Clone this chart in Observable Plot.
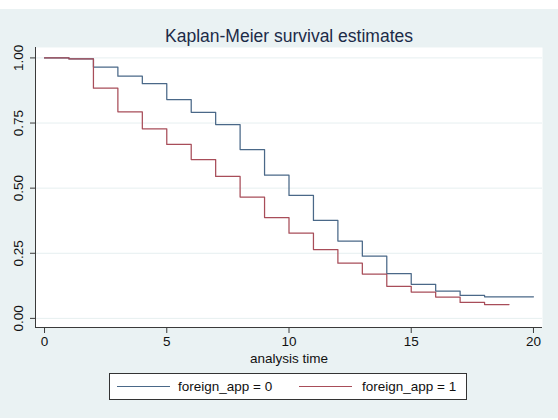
<!DOCTYPE html>
<html>
<head>
<meta charset="utf-8">
<script src="https://cdn.jsdelivr.net/npm/d3@7"></script>
<script src="https://cdn.jsdelivr.net/npm/@observablehq/plot@0.6"></script>
<style>
  html, body { margin: 0; padding: 0; background: #ffffff; }
  #page { position: relative; width: 558px; height: 420px; overflow: hidden; font-family: "Liberation Sans", Arial, sans-serif; }
  #band { position: absolute; left: 0; top: 9px; width: 558px; height: 409px; background: #eaf2f3; }
  #chart { position: absolute; left: 0; top: 0; }
  #legend { position: absolute; left: 109px; top: 373px; width: 356px; height: 25px; background: #ffffff; border: 1px solid #333; font-size: 13.5px; color: #111; }
  .item { position: absolute; top: 0; height: 25px; line-height: 25px; white-space: nowrap; }
  .swatch { position: absolute; top: 12px; height: 0; border-top: 1.4px solid; }
</style>
</head>
<body>
<div id="page">
  <div id="band"></div>
  <div id="chart"></div>
  <div id="legend"></div>
</div>
<script>
// Kaplan-Meier estimates by group
const title = "Kaplan-Meier survival estimates";
const xLabel = "analysis time";
const groups = ["foreign_app = 0", "foreign_app = 1"];
const colors = ["#4a6888", "#a84d59"];

const time0 = [0, 1, 2, 3, 4, 5, 6, 7, 8, 9, 10, 11, 12, 13, 14, 15, 16, 17, 18, 20];
const surv0 = [1.0, 0.996, 0.965, 0.930, 0.901, 0.840, 0.791, 0.744, 0.648, 0.550, 0.472, 0.376, 0.297, 0.239, 0.172, 0.131, 0.105, 0.088, 0.083, 0.083];

const time1 = [0, 1, 2, 3, 4, 5, 6, 7, 8, 9, 10, 11, 12, 13, 14, 15, 16, 17, 18, 19];
const surv1 = [1.0, 0.996, 0.884, 0.793, 0.728, 0.668, 0.610, 0.545, 0.466, 0.387, 0.327, 0.264, 0.212, 0.170, 0.123, 0.101, 0.082, 0.061, 0.053, 0.053];

const xTicks = [0, 5, 10, 15, 20];
const yTicks = [0, 0.25, 0.5, 0.75, 1];

const xDomain = [-0.37, 20.37];
const yDomain = [-0.035, 1.04];

const rows = [
  ...time0.map((t, i) => ({t, s: surv0[i], g: groups[0]})),
  ...time1.map((t, i) => ({t, s: surv1[i], g: groups[1]}))
];

const font = "'Liberation Sans', Arial, sans-serif";

const chart = Plot.plot({
  width: 558,
  height: 420,
  marginLeft: 35,
  marginRight: 16,
  marginTop: 47,
  marginBottom: 93,
  style: {background: "transparent", fontFamily: font, overflow: "visible"},
  x: {domain: xDomain, ticks: xTicks, label: null},
  y: {domain: yDomain, ticks: yTicks, label: null},
  color: {domain: groups, range: colors},
  marks: [
    Plot.frame({fill: "#ffffff", stroke: null}),
    Plot.gridY(yTicks, {stroke: "#e6eff0", strokeOpacity: 1, strokeWidth: 1}),
    Plot.ruleX([xDomain[0]], {stroke: "#3a3a3a", strokeWidth: 1}),
    Plot.ruleY([yDomain[0]], {stroke: "#3a3a3a", strokeWidth: 1}),
    Plot.axisY(yTicks, {tickSize: 5, text: null, label: null, stroke: "#3a3a3a"}),
    Plot.text(yTicks, {
      y: d => d, frameAnchor: "left", dx: -17, rotate: -90,
      text: d => d.toFixed(2), fontSize: 13.5, fill: "#111", textAnchor: "middle"
    }),
    Plot.axisX(xTicks, {tickSize: 6, tickPadding: 3, fontSize: 13.5, fill: "#111", stroke: "#3a3a3a", label: null}),
    Plot.text([xLabel], {frameAnchor: "bottom", lineAnchor: "middle", dy: 31.5, text: d => d, fontSize: 13.5, fill: "#111"}),
    Plot.text([title], {frameAnchor: "top", lineAnchor: "middle", dy: -11.5, text: d => d, fontSize: 17.5, fill: "#1c2b48"}),
    Plot.line(rows, {x: "t", y: "s", z: "g", stroke: "g", curve: "step-after", strokeWidth: 1.25})
  ]
});
document.getElementById("chart").appendChild(chart);

// Legend
const legend = document.getElementById("legend");
const legendPos = [{line: 7, text: 68}, {line: 189, text: 252}];
groups.forEach((g, i) => {
  const sw = document.createElement("div");
  sw.className = "swatch";
  sw.style.left = legendPos[i].line + "px";
  sw.style.width = "53px";
  sw.style.borderTopColor = colors[i];
  legend.appendChild(sw);
  const tx = document.createElement("div");
  tx.className = "item";
  tx.style.left = legendPos[i].text + "px";
  tx.textContent = g;
  legend.appendChild(tx);
});
</script>
</body>
</html>
